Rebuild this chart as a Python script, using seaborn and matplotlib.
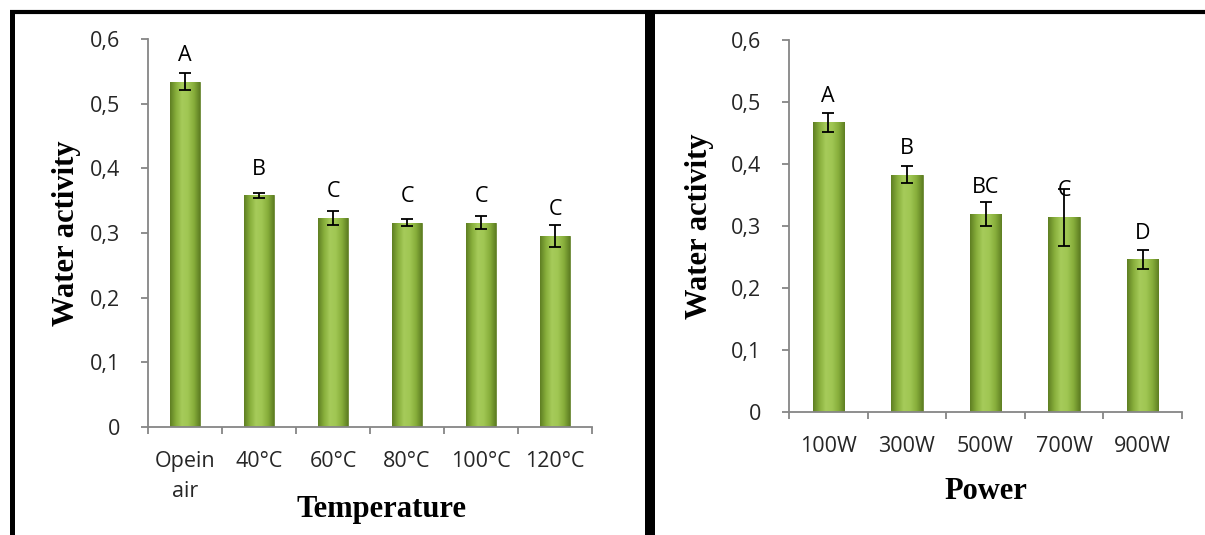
import numpy as np
import matplotlib
matplotlib.use("Agg")
import matplotlib.pyplot as plt
from matplotlib.colors import LinearSegmentedColormap
from matplotlib.lines import Line2D
import seaborn as sns

# data
temp_labels = ["Opein\nair", "40°C", "60°C", "80°C", "100°C", "120°C"]
temp_values = [0.534, 0.358, 0.323, 0.316, 0.316, 0.295]
temp_errors = [0.013, 0.004, 0.011, 0.005, 0.010, 0.017]
temp_letters = ["A", "B", "C", "C", "C", "C"]

power_labels = ["100W", "300W", "500W", "700W", "900W"]
power_values = [0.467, 0.383, 0.319, 0.314, 0.246]
power_errors = [0.016, 0.013, 0.019, 0.046, 0.015]
power_letters = ["A", "B", "BC", "C", "D"]

W, H = 1205, 535
sns.set_style("white")
plt.rcParams["font.family"] = ["Open Sans", "DejaVu Sans"]

AXIS_GREY = "#868686"
bar_cmap = LinearSegmentedColormap.from_list(
    "bevel", ["#5e7e22", "#87ae3b", "#a6cb5a", "#a0c653", "#87ae3b", "#5e7e22"])


def px_rect(x0, y0, x1, y1):
    # pixel box (top-left origin) -> figure fraction rect
    return [x0 / W, 1 - y1 / H, (x1 - x0) / W, (y1 - y0) / H]


def draw_panel(ax, labels, values, errors, letters, xlabel, xlab_pos, ylab_x):
    sns.barplot(x=labels, y=values, order=labels, color="#8db33f",
                width=0.4, saturation=1, ax=ax)
    n = len(labels)

    # bevel-like horizontal gradient clipped to each bar
    grad = np.linspace(0, 1, 256).reshape(1, -1)
    for patch in ax.patches:
        x0, y0 = patch.get_x(), patch.get_y()
        x1, y1 = x0 + patch.get_width(), y0 + patch.get_height()
        im = ax.imshow(grad, extent=[x0, x1, y0, y1], cmap=bar_cmap,
                       aspect="auto", zorder=patch.get_zorder(), origin="lower")
        im.set_clip_path(patch)
        patch.set_facecolor("none")
        patch.set_edgecolor("#5e7e22")
        patch.set_linewidth(0.6)

    ax.errorbar(np.arange(n), values, yerr=errors, fmt="none", ecolor="black",
                elinewidth=1.3, capsize=4.5, capthick=1.3, zorder=5)

    for i, (v, let) in enumerate(zip(values, letters)):
        ax.annotate(let, xy=(i, v), xytext=(0, 19), textcoords="offset points",
                    ha="center", va="center", fontsize=15.5, color="black")

    ax.set_xlim(-0.5, n - 0.5)
    ax.set_ylim(0, 0.6)
    yt = np.round(np.arange(0, 0.61, 0.1), 1)
    ax.set_yticks(yt)
    ax.set_yticklabels(["0" if t == 0 else f"{t:.1f}".replace(".", ",") for t in yt])
    ax.set_xticks(np.arange(-0.5, n, 1.0), minor=True)

    for side in ("top", "right"):
        ax.spines[side].set_visible(False)
    for side in ("left", "bottom"):
        ax.spines[side].set_color(AXIS_GREY)
        ax.spines[side].set_linewidth(1.3)

    ax.tick_params(axis="y", which="major", length=5, width=1.3, color=AXIS_GREY,
                   direction="out", pad=15, labelsize=15.5, left=True)
    ax.tick_params(axis="x", which="major", length=0, pad=17, labelsize=15.5)
    ax.tick_params(axis="x", which="minor", length=5, width=1.3, color=AXIS_GREY,
                   direction="out", bottom=True)
    for lab in ax.get_xticklabels():
        lab.set_linespacing(1.6)

    serif = dict(fontfamily=["Liberation Serif", "DejaVu Serif"], fontweight="bold",
                 fontsize=22, color="black")
    ax.set_xlabel(xlabel, **serif)
    ax.xaxis.set_label_coords(*xlab_pos)
    ax.set_ylabel("Water activity", **serif)
    ax.yaxis.set_label_coords(ylab_x, 0.5)
    ax.grid(False)


fig = plt.figure(figsize=(W / 100, H / 100), dpi=100)
ax1 = fig.add_axes(px_rect(148, 39, 592, 427))
ax2 = fig.add_axes(px_rect(789, 40, 1182, 412))

draw_panel(ax1, temp_labels, temp_values, temp_errors, temp_letters,
           "Temperature", (0.526, -0.175), -0.15)
draw_panel(ax2, power_labels, power_values, power_errors, power_letters,
           "Power", (0.5, -0.175), -0.19)

# panel frames
fig.add_artist(Line2D([11.5 / W, 11.5 / W], [0, 1 - 12 / H], transform=fig.transFigure,
                      color="black", lw=3.6, solid_capstyle="butt"))
fig.add_artist(Line2D([9.5 / W, 1], [1 - 12 / H, 1 - 12 / H], transform=fig.transFigure,
                      color="black", lw=3.0, solid_capstyle="butt"))
fig.add_artist(Line2D([650 / W, 650 / W], [0, 1 - 12 / H], transform=fig.transFigure,
                      color="black", lw=7.2, solid_capstyle="butt"))

fig.savefig("out.png", dpi=100)
